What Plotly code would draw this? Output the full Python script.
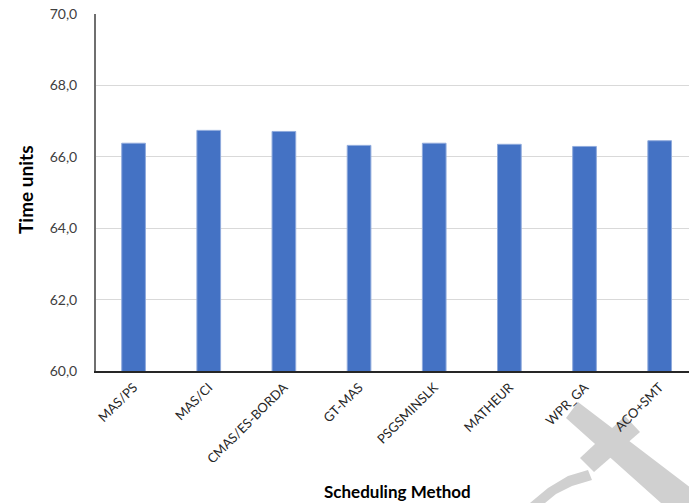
import plotly.graph_objects as go

categories = ["MAS/PS", "MAS/CI", "CMAS/ES-BORDA", "GT-MAS", "PSGSMINSLK", "MATHEUR", "WPR_GA", "ACO+SMT"]
values = [66.38, 66.74, 66.71, 66.32, 66.38, 66.35, 66.29, 66.45]
y_ticks = [60, 62, 64, 66, 68, 70]

W, H = 689, 503
L, T, B = 96, 14, 132
PW, PH = W - L, H - T - B

def px(x):
    return (x - L) / PW

def py(y):
    return (H - B - y) / PH

def poly(points):
    d = "M " + " L ".join(f"{px(x):.5f},{py(y):.5f}" for x, y in points) + " Z"
    return dict(type="path", xref="paper", yref="paper", path=d,
                fillcolor="#d0d0d0", line=dict(width=0), layer="below")

fig = go.Figure(go.Bar(
    x=categories, y=values,
    marker=dict(color="#4472C4", line=dict(color="#8faadc", width=1)),
    width=0.315,
))

shapes = [
    poly([(566, 418), (578, 402), (700, 495), (700, 520), (680, 520)]),
    poly([(580, 458), (625, 416), (640, 432), (594, 472)]),
    poly([(530, 503), (548, 488), (568, 476), (588, 470), (592, 480), (572, 486), (556, 494), (545, 503)]),
]

fig.update_layout(
    width=W, height=H,
    margin=dict(l=L, r=0, t=T, b=B, autoexpand=False),
    paper_bgcolor="white", plot_bgcolor="white",
    separators=", ",
    showlegend=False,
    font=dict(family="Lato, 'Open Sans', sans-serif", color="#404040"),
    shapes=shapes,
    annotations=[
        dict(text="<b>Time units</b>", xref="paper", yref="paper", x=0, y=(H - B - 190) / PH,
             xanchor="center", yanchor="middle",
             xshift=-(L - 25), textangle=-90, showarrow=False,
             font=dict(size=19, color="#000000")),
        dict(text="<b>Scheduling Method</b>", xref="paper", yref="paper", x=(397 - L) / PW, y=0,
             xanchor="center", yanchor="middle",
             yshift=-(491 - (H - B)), showarrow=False,
             font=dict(size=17, color="#000000")),
    ],
)

fig.update_xaxes(
    range=[-0.5, 7.39],
    tickangle=-45,
    tickfont=dict(size=13, color="#262626"),
    showline=True, linecolor="#262626", linewidth=1.5,
    showgrid=False, ticks="", ticklabelstandoff=2,
    automargin=False,
)
fig.update_yaxes(
    range=[60, 70],
    tickvals=y_ticks,
    tickformat=".1f",
    tickfont=dict(size=14, color="#404040"),
    showline=True, linecolor="#6f6f6f", linewidth=2,
    showgrid=True, gridcolor="#d9d9d9", gridwidth=1.3,
    ticks="", ticklabelstandoff=14,
    zeroline=False, automargin=False,
)

fig.write_html("out.html", config={"displayModeBar": False},
               post_script="document.body.style.margin='0';document.body.style.overflow='hidden';")
